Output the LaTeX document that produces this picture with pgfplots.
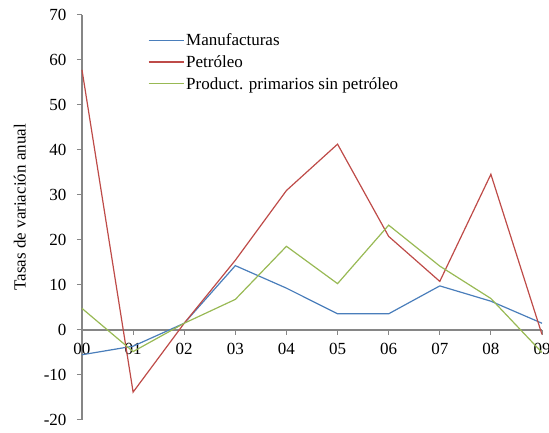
\documentclass[border=0pt]{standalone}
\usepackage{fontspec}
\setmainfont{Liberation Serif}
\usepackage{pgfplots}
\pgfplotsset{compat=1.18}

\definecolor{manuf}{HTML}{4A7EBB}
\definecolor{petro}{HTML}{BE4B48}
\definecolor{prim}{HTML}{98B954}
\definecolor{axgray}{HTML}{868686}

\pgfplotscreateplotcyclelist{series}{
    {draw=manuf, line width=1.2pt},
    {draw=petro, line width=1.2pt},
    {draw=prim, line width=1.2pt}}

\begin{document}
\begin{tikzpicture}[font=\fontsize{17}{20}\selectfont]
\useasboundingbox (-82pt,-13pt) rectangle (467pt,420pt);
\begin{axis}[
    at={(0,0)}, anchor=south west,
    scale only axis,
    width=460pt, height=405pt,
    xmin=0, xmax=9, ymin=-20, ymax=70,
    axis x line=middle, axis y line=left,
    hide obscured x ticks=false,
    axis line style={-, draw=axgray, line width=1.6pt},
    xtick={0,...,9},
    xticklabels={00,01,02,03,04,05,06,07,08,09},
    ytick={-20,-10,...,70},
    tick align=outside,
    major tick length=5pt,
    tick style={draw=axgray, line width=1pt},
    /pgf/number format/assume math mode=true,
    xticklabel style={yshift=-5pt},
    yticklabel style={xshift=-7pt},
    ylabel={Tasas de variación anual},
    ylabel style={at={(axis description cs:-0.135,0.525)}, anchor=center},
    cycle list name=series,
    legend style={draw=none, fill=none, at={(axis description cs:0.143,0.96)}, anchor=north west,
        inner sep=0pt, row sep=4.5pt, nodes={inner sep=2pt}},
    legend cell align=left,
    legend image code/.code={\draw[#1] (0pt,0pt) -- (35pt,0pt);},
    clip=false,
]
\addplot coordinates {
(0,-5.5) (1,-3.6) (2,1.5) (3,14.3) (4,9.3) (5,3.6) (6,3.6) (7,9.8) (8,6.4) (9,1.5)};
\addplot coordinates {
(0,57.8) (1,-13.8) (2,1.5) (3,15.5) (4,31) (5,41.3) (6,20.8) (7,10.8) (8,34.6) (9,-1)};
\addplot coordinates {
(0,4.8) (1,-4.8) (2,1.5) (3,6.8) (4,18.6) (5,10.3) (6,23.3) (7,14.2) (8,7) (9,-5)};
\legend{Manufacturas, Petróleo, Product. primarios sin petróleo}
\end{axis}
\end{tikzpicture}
\end{document}
